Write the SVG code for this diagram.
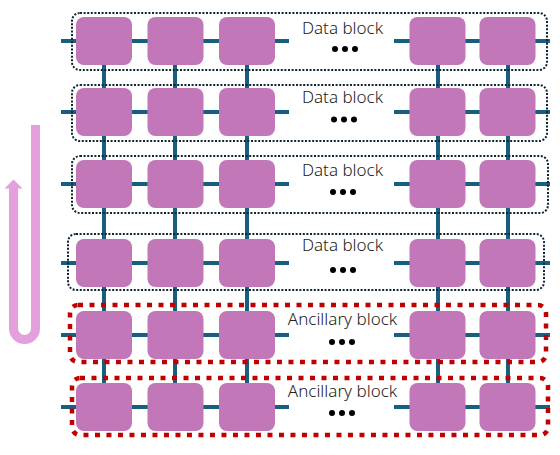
<svg xmlns="http://www.w3.org/2000/svg" width="560" height="455" viewBox="0 0 560 455">
<defs>
<style>
.sq{fill:#c277b8}
.cn{stroke:#185e7e;stroke-width:4;fill:none}
.db{fill:none;stroke:#0d2535;stroke-width:2;stroke-dasharray:2 1.6}
.ab{fill:none;stroke:#c00000;stroke-width:4.5;stroke-dasharray:5 6.5}
.lb{font-family:"Noto Sans","Open Sans","Liberation Sans",sans-serif;font-size:17px;font-weight:300;fill:#222;text-anchor:middle}
.dt{fill:#000}
</style>
<rect id="sqshape" width="56" height="48" rx="8" ry="8"/>
</defs>
<g id="connectors">
<path class="cn" d="M61,41H289M394,41H550M61,112H289M394,112H550M61,184H289M394,184H550M61,263H289M394,263H550M61,335H289M394,335H550M61,407H289M394,407H550"/>
<path class="cn" d="M104,65V88M175,65V88M247,65V88M438,65V88M508,65V88M104,136V160M175,136V160M247,136V160M438,136V160M508,136V160M104,208V239M175,208V239M247,208V239M438,208V239M508,208V239M104,287V311M175,287V311M247,287V311M438,287V311M508,287V311M104,359V383M175,359V383M247,359V383M438,359V383M508,359V383"/>
</g>
<g id="flow-arrow">
<path d="M35.5,125V328.5A11,11 0 0 1 13.5,328.5V187" fill="none" stroke="#e4a0dc" stroke-width="9"/>
<polygon points="4.5,188.5 13.5,179.5 22.5,188.5" fill="#e4a0dc"/>
</g>
<g id="qubits">
<g id="q1-1"><use href="#sqshape" class="sq" x="76" y="17"/></g>
<g id="q1-2"><use href="#sqshape" class="sq" x="147.5" y="17"/></g>
<g id="q1-3"><use href="#sqshape" class="sq" x="219" y="17"/></g>
<g id="q1-4"><use href="#sqshape" class="sq" x="409.5" y="17"/></g>
<g id="q1-5"><use href="#sqshape" class="sq" x="479.5" y="17"/></g>
<g id="q2-1"><use href="#sqshape" class="sq" x="76" y="88"/></g>
<g id="q2-2"><use href="#sqshape" class="sq" x="147.5" y="88"/></g>
<g id="q2-3"><use href="#sqshape" class="sq" x="219" y="88"/></g>
<g id="q2-4"><use href="#sqshape" class="sq" x="409.5" y="88"/></g>
<g id="q2-5"><use href="#sqshape" class="sq" x="479.5" y="88"/></g>
<g id="q3-1"><use href="#sqshape" class="sq" x="76" y="160"/></g>
<g id="q3-2"><use href="#sqshape" class="sq" x="147.5" y="160"/></g>
<g id="q3-3"><use href="#sqshape" class="sq" x="219" y="160"/></g>
<g id="q3-4"><use href="#sqshape" class="sq" x="409.5" y="160"/></g>
<g id="q3-5"><use href="#sqshape" class="sq" x="479.5" y="160"/></g>
<g id="q4-1"><use href="#sqshape" class="sq" x="76" y="239"/></g>
<g id="q4-2"><use href="#sqshape" class="sq" x="147.5" y="239"/></g>
<g id="q4-3"><use href="#sqshape" class="sq" x="219" y="239"/></g>
<g id="q4-4"><use href="#sqshape" class="sq" x="409.5" y="239"/></g>
<g id="q4-5"><use href="#sqshape" class="sq" x="479.5" y="239"/></g>
<g id="q5-1"><use href="#sqshape" class="sq" x="76" y="311"/></g>
<g id="q5-2"><use href="#sqshape" class="sq" x="147.5" y="311"/></g>
<g id="q5-3"><use href="#sqshape" class="sq" x="219" y="311"/></g>
<g id="q5-4"><use href="#sqshape" class="sq" x="409.5" y="311"/></g>
<g id="q5-5"><use href="#sqshape" class="sq" x="479.5" y="311"/></g>
<g id="q6-1"><use href="#sqshape" class="sq" x="76" y="383"/></g>
<g id="q6-2"><use href="#sqshape" class="sq" x="147.5" y="383"/></g>
<g id="q6-3"><use href="#sqshape" class="sq" x="219" y="383"/></g>
<g id="q6-4"><use href="#sqshape" class="sq" x="409.5" y="383"/></g>
<g id="q6-5"><use href="#sqshape" class="sq" x="479.5" y="383"/></g>
</g>
<g id="block-1">
<rect class="db" x="72" y="13" width="475" height="57" rx="8"/>
<text class="lb" x="342.5" y="34">Data block</text>
<circle class="dt" cx="335" cy="49" r="3"/><circle class="dt" cx="345" cy="49" r="3"/><circle class="dt" cx="355" cy="49" r="3"/>
</g>
<g id="block-2">
<rect class="db" x="72" y="85" width="475" height="56" rx="8"/>
<text class="lb" x="342.5" y="103">Data block</text>
<circle class="dt" cx="334" cy="119.5" r="3"/><circle class="dt" cx="344" cy="119.5" r="3"/><circle class="dt" cx="354" cy="119.5" r="3"/>
</g>
<g id="block-3">
<rect class="db" x="72" y="156" width="476" height="57" rx="8"/>
<text class="lb" x="342.5" y="176">Data block</text>
<circle class="dt" cx="333" cy="192" r="3"/><circle class="dt" cx="343" cy="192" r="3"/><circle class="dt" cx="353" cy="192" r="3"/>
</g>
<g id="block-4">
<rect class="db" x="68" y="234" width="476" height="56" rx="8"/>
<text class="lb" x="342.5" y="251">Data block</text>
<circle class="dt" cx="333" cy="270" r="3"/><circle class="dt" cx="343" cy="270" r="3"/><circle class="dt" cx="353" cy="270" r="3"/>
</g>
<g id="block-5">
<rect class="ab" x="70" y="305" width="476" height="57" rx="8"/>
<text class="lb" x="342.5" y="325">Ancillary block</text>
<circle class="dt" cx="332" cy="342" r="3"/><circle class="dt" cx="342" cy="342" r="3"/><circle class="dt" cx="352" cy="342" r="3"/>
</g>
<g id="block-6">
<rect class="ab" x="72" y="378" width="476" height="57" rx="8"/>
<text class="lb" x="342.5" y="397">Ancillary block</text>
<circle class="dt" cx="332" cy="413" r="3"/><circle class="dt" cx="342" cy="413" r="3"/><circle class="dt" cx="352" cy="413" r="3"/>
</g>
</svg>
